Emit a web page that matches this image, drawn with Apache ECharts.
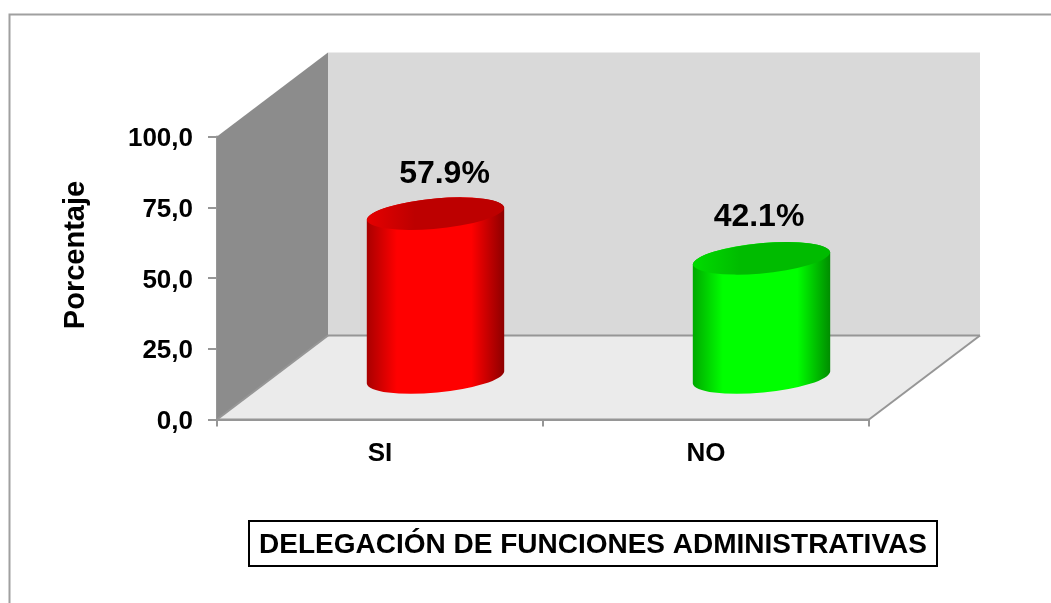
<!DOCTYPE html>
<html>
<head>
<meta charset="utf-8">
<style>
  html, body { margin: 0; padding: 0; background: #fff; }
  #main { width: 1051px; height: 603px; }
</style>
<script src="https://cdn.jsdelivr.net/npm/echarts@6/dist/echarts.min.js"></script>
</head>
<body>
<div id="main"></div>
<script>
var categories = ['SI', 'NO']
var values = [57.9, 42.1]
var bodyColors = ['#ff0000', '#00ff00']
var edgeColors = [['#a80000', '#8c0000'], ['#00a800', '#008c00']]
var capColors = [['#e60000', '#bd0000'], ['#00dc00', '#00bb00']]
var yTicks = [0, 25, 50, 75, 100]

var FONT = '"Liberation Sans", Arial, sans-serif'
// desplazamiento de la profundidad 3D
var DEPTH_X = 111
var DEPTH_Y = -84
// elipse de los cilindros
var RX = 69
var RY = 15.5
var ROT = -5.26
var TAN_DX = 68.7
var TAN_DY = 6
// posicion de las etiquetas respecto a la tapa
var labelShift = [[9, -39], [-2.5, -41]]

function poly(points, fill, z) {
  return { type: 'polygon', z2: z || 0, shape: { points: points }, style: { fill: fill } }
}

function line(x1, y1, x2, y2) {
  return {
    type: 'line',
    z2: 5,
    shape: { x1: x1, y1: y1, x2: x2, y2: y2 },
    style: { stroke: '#969696', lineWidth: 2 }
  }
}

// paredes y piso
function renderWalls(params) {
  var c = params.coordSys
  var l = c.x
  var t = c.y
  var r = c.x + c.width
  var b = c.y + c.height
  return {
    type: 'group',
    children: [
      poly([[l + DEPTH_X, t + DEPTH_Y], [r + DEPTH_X, t + DEPTH_Y], [r + DEPTH_X, b + DEPTH_Y], [l + DEPTH_X, b + DEPTH_Y]], '#d9d9d9'),
      poly([[l, t], [l + DEPTH_X, t + DEPTH_Y], [l + DEPTH_X, b + DEPTH_Y], [l, b]], '#8c8c8c'),
      poly([[l, b], [l + DEPTH_X, b + DEPTH_Y], [r + DEPTH_X, b + DEPTH_Y], [r, b]], '#ebebeb'),
      line(l + DEPTH_X, b + DEPTH_Y, r + DEPTH_X, b + DEPTH_Y),
      line(r, b, r + DEPTH_X, b + DEPTH_Y),
      line(l, b, l + DEPTH_X, b + DEPTH_Y),
      line(l, b, r, b)
    ]
  }
}

// cilindro de cada categoria
function renderCylinder(params, api) {
  var i = api.value(0)
  var top = api.coord([i, api.value(1)])
  var base = api.coord([i, 0])
  var cx = top[0] + DEPTH_X / 2
  var yTop = top[1] + DEPTH_Y / 2
  var yBase = base[1] + DEPTH_Y / 2
  var arc = 'A' + RX + ' ' + RY + ' ' + ROT + ' 0 '
  var leftTop = (cx - TAN_DX) + ' ' + (yTop + TAN_DY)
  var rightTop = (cx + TAN_DX) + ' ' + (yTop - TAN_DY)
  var leftBase = (cx - TAN_DX) + ' ' + (yBase + TAN_DY)
  var rightBase = (cx + TAN_DX) + ' ' + (yBase - TAN_DY)
  var edge = edgeColors[i]
  var cap = capColors[i]
  return {
    type: 'group',
    children: [
      {
        type: 'path',
        shape: {
          pathData: 'M' + leftTop + ' L' + leftBase + ' ' + arc + '0 ' + rightBase + ' L' + rightTop + ' ' + arc + '0 ' + leftTop + ' Z'
        },
        style: {
          fill: new echarts.graphic.LinearGradient(0, 0, 1, 0, [
            { offset: 0, color: edge[0] },
            { offset: 0.22, color: bodyColors[i] },
            { offset: 0.76, color: bodyColors[i] },
            { offset: 1, color: edge[1] }
          ])
        }
      },
      {
        type: 'path',
        shape: {
          pathData: 'M' + leftTop + ' ' + arc + '1 ' + rightTop + ' ' + arc + '1 ' + leftTop + ' Z'
        },
        style: {
          fill: new echarts.graphic.LinearGradient(0, 0, 1, 0, [
            { offset: 0, color: cap[0] },
            { offset: 0.35, color: cap[1] },
            { offset: 1, color: cap[1] }
          ])
        }
      },
      {
        type: 'text',
        style: {
          x: cx + labelShift[i][0],
          y: yTop + labelShift[i][1],
          text: api.value(1).toFixed(1) + '%',
          fill: '#000',
          font: 'bold 32px ' + FONT,
          align: 'center',
          verticalAlign: 'middle'
        }
      }
    ]
  }
}

var chart = echarts.init(document.getElementById('main'), null, { renderer: 'canvas' })
chart.setOption({
  animation: false,
  backgroundColor: '#fff',
  title: {
    text: 'DELEGACIÓN DE FUNCIONES ADMINISTRATIVAS',
    left: 249,
    top: 521,
    borderColor: '#000',
    borderWidth: 2,
    padding: [8, 10, 5, 10],
    textStyle: { fontFamily: FONT, fontWeight: 'bold', fontSize: 28, color: '#000', lineHeight: 32 }
  },
  // el borde del grafico solo se ve arriba y a la izquierda
  graphic: [
    {
      type: 'polyline',
      z: -1,
      shape: { points: [[9.5, 603], [9.5, 14.5], [1051, 14.5]] },
      style: { fill: 'none', stroke: '#a0a0a0', lineWidth: 2 }
    }
  ],
  grid: { left: 217, top: 136.5, width: 652, height: 283 },
  xAxis: {
    type: 'category',
    data: categories,
    axisLine: { show: true, lineStyle: { color: '#969696', width: 2 } },
    axisTick: { show: true, length: 7, alignWithLabel: false, lineStyle: { color: '#969696', width: 2 } },
    axisLabel: { margin: 21, color: '#000', fontFamily: FONT, fontWeight: 'bold', fontSize: 26 }
  },
  yAxis: {
    type: 'value',
    min: 0,
    max: 100,
    interval: 25,
    name: 'Porcentaje',
    nameLocation: 'middle',
    nameGap: 127,
    nameRotate: 90,
    nameTextStyle: { color: '#000', fontFamily: FONT, fontWeight: 'bold', fontSize: 29, padding: [0, 0, 0, 46] },
    splitLine: { show: false },
    axisLine: { show: true, lineStyle: { color: '#969696', width: 2 } },
    axisTick: { show: true, length: 9, lineStyle: { color: '#969696', width: 2 } },
    axisLabel: {
      margin: 24,
      customValues: yTicks,
      formatter: function (v) { return '{t|' + v.toFixed(1).replace('.', ',') + '}' },
      rich: {
        t: { color: '#000', fontFamily: FONT, fontWeight: 'bold', fontSize: 26, padding: [5, 0, 0, 0] }
      }
    }
  },
  series: [
    {
      type: 'custom',
      z: 1,
      silent: true,
      clip: false,
      renderItem: renderWalls,
      data: [[0, 0]]
    },
    {
      type: 'custom',
      z: 3,
      clip: false,
      renderItem: renderCylinder,
      encode: { x: 0, y: 1 },
      data: values.map(function (v, i) { return [i, v] })
    }
  ]
})
</script>
</body>
</html>
